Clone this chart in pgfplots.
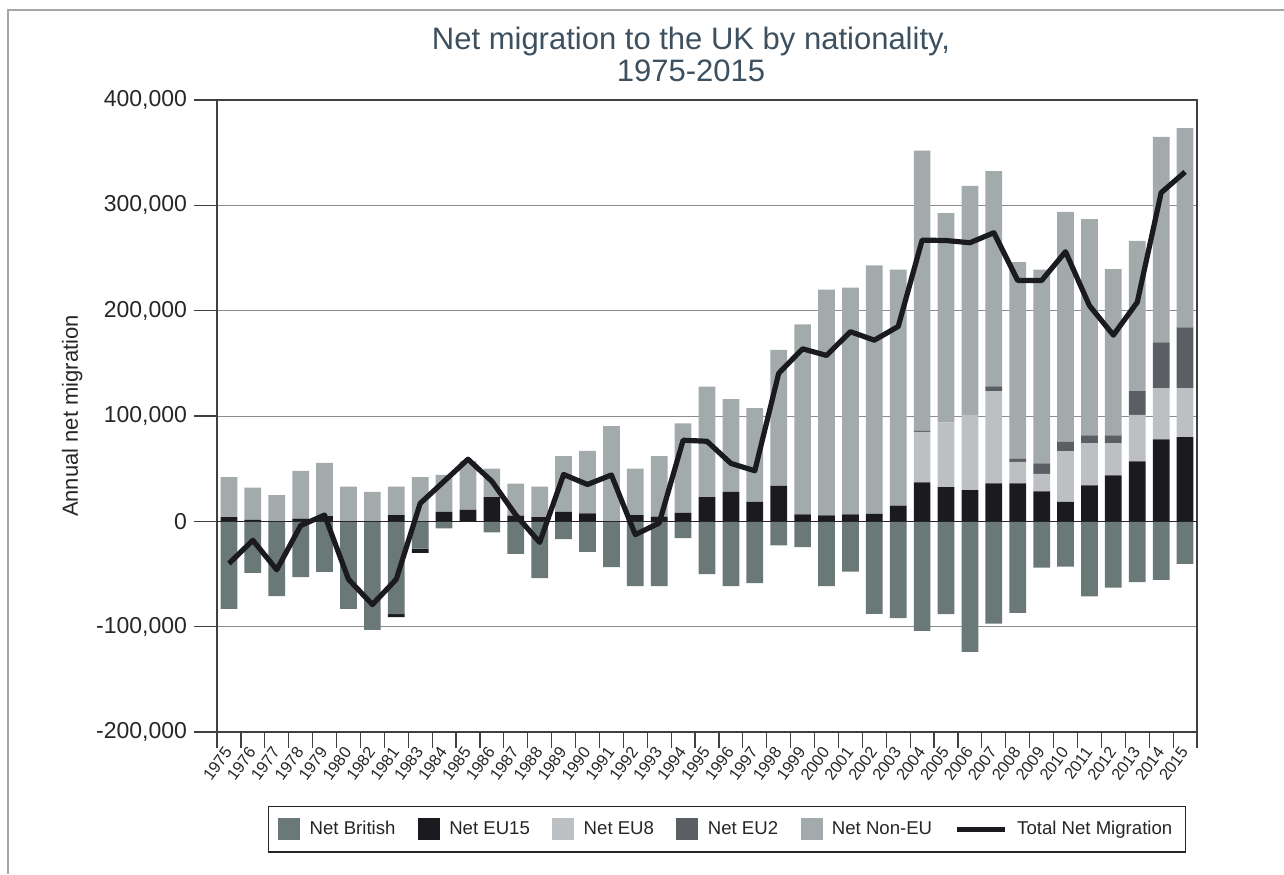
\documentclass[border=0pt]{standalone}
\usepackage{fontspec}
\setmainfont{Liberation Sans}
\usepackage{pgfplots}
\usepackage{pgfplotstable}
\pgfplotsset{compat=1.18}

\definecolor{cbrit}{RGB}{107,120,120}
\definecolor{ceu15}{RGB}{27,27,31}
\definecolor{ceu8}{RGB}{188,192,195}
\definecolor{ceu2}{RGB}{91,95,99}
\definecolor{cnon}{RGB}{162,170,171}
\definecolor{ctitle}{RGB}{61,80,96}

% i = category position; 1982 comes before 1981 as in the source chart
\pgfplotstableread{
i  yr   brit    negblk eu15  eu8   eu2   non    total
0  1975 -83000  0      4000  0     0     38000  -40000
1  1976 -49000  0      1500  0     0     30500  -18000
2  1977 -71000  0      0     0     0     25000  -46000
3  1978 -53000  0      2500  0     0     45500  -4000
4  1979 -48000  0      5000  0     0     50500  6000
5  1980 -83000  0      0     0     0     33000  -55000
6  1982 -103000 0      0     0     0     28000  -79000
7  1981 -88000  -3000  6000  0     0     27000  -55000
8  1983 -26000  -4000  0     0     0     42000  17000
9  1984 -6600   0      9000  0     0     35000  38000
10 1985 0       0      11000 0     0     46000  59000
11 1986 -10400  0      23000 0     0     27000  38000
12 1987 -31000  0      5400  0     0     30300  6000
13 1988 -54000  0      4000  0     0     29000  -20000
14 1989 -17000  0      9000  0     0     53000  44500
15 1990 -29000  0      7600  0     0     59400  35000
16 1991 -43500  0      0     0     0     90500  44000
17 1992 -61500  0      6000  0     0     44000  -12600
18 1993 -61500  0      4400  0     0     57600  -1600
19 1994 -16000  0      8000  0     0     85000  77000
20 1995 -50000  0      23000 0     0     105000 76000
21 1996 -61500  0      28000 0     0     88000  55000
22 1997 -58700  0      18500 0     0     89100  48000
23 1998 -22900  0      33700 0     0     129200 140600
24 1999 -24400  0      6700  0     0     180300 163800
25 2000 -61500  0      5700  0     0     214300 157500
26 2001 -47800  0      6700  0     0     215300 180000
27 2002 -87800  0      7000  0     0     236000 172000
28 2003 -92000  0      15000 0     0     224000 185000
29 2004 -104000 0      37000 48000 1000  266000 267000
30 2005 -88000  0      32500 61500 0     198500 266600
31 2006 -124000 0      29700 71300 0     217500 264500
32 2007 -97000  0      36000 87600 4500  204500 274000
33 2008 -87000  0      36000 20400 3000  186700 228700
34 2009 -44000  0      28400 16600 10000 184000 228700
35 2010 -43000  0      18500 48200 8700  218400 256000
36 2011 -71300  0      34200 40000 7400  205200 204800
37 2012 -63000  0      43700 30500 7400  157800 176800
38 2013 -57700  0      56900 44100 22600 142600 208000
39 2014 -55600  0      77900 48600 43500 195000 312000
40 2015 -40400  0      80000 46500 57700 189100 331700
}\mig

\pgfplotsset{
  base/.style={at={(108.5pt,-50pt)}, anchor=north west, scale only axis,
    width=490pt, height=316pt, xmin=-0.5, xmax=40.5, ymin=-200000, ymax=400000},
  sqleg/.style={legend image code/.code={\fill[##1, draw=none] (0pt,-5.5pt) rectangle (11pt,5.5pt);}},
  lineleg/.style={legend image code/.code={\draw[##1] (0pt,0pt) -- (24pt,0pt);}},
}

\begin{document}
\begin{tikzpicture}
\useasboundingbox (0,0) rectangle (642pt,-437pt);
\draw[black!35, line width=1pt] (4pt,-437pt) -- (4pt,-5pt) -- (642pt,-5pt);

\node[text=ctitle, font=\fontsize{15.5}{16}\selectfont, align=center] at (345.5pt,-27pt)
  {Net migration to the UK by nationality,\\1975-2015};

% back axis: grid, ticks, labels, negative bars
\begin{axis}[base, ybar stacked, bar width=0.7,
  ymajorgrids, grid style={black!45, line width=0.5pt},
  axis line style={black!75, line width=0.6pt},
  scaled y ticks=false,
  ytick={-200000,-100000,...,400000},
  yticklabels={{-200,000},{-100,000},{0},{100,000},{200,000},{300,000},{400,000}},
  ytick pos=left, tick align=outside, major tick length=11.5pt,
  ytick style={black!75, line width=0.6pt},
  xtick={0,...,40}, xtick style={draw=none},
  xticklabels={1975,1976,1977,1978,1979,1980,1982,1981,1983,1984,1985,1986,1987,1988,1989,1990,1991,1992,1993,1994,1995,1996,1997,1998,1999,2000,2001,2002,2003,2004,2005,2006,2007,2008,2009,2010,2011,2012,2013,2014,2015},
  xticklabel shift=-3.5pt,
  x tick label style={rotate=54, anchor=east, font=\fontsize{8.2}{9}\selectfont, inner sep=0.5pt, text=black!85},
  y tick label style={font=\fontsize{11.5}{12}\selectfont, text=black!85},
  ylabel={Annual net migration},
  ylabel style={font=\fontsize{11}{12}\selectfont, text=black!85},
]
\addplot[fill=cbrit, draw=none] table[x=i, y=brit] {\mig};
\addplot[fill=ceu15, draw=none] table[x=i, y=negblk] {\mig};
\end{axis}

% positive bars and boundary ticks
\begin{axis}[base, ybar stacked, bar width=0.7,
  axis x line*=bottom, axis y line=none, ytick=\empty,
  axis line style={black!75, line width=0.6pt},
  xtick={-0.5,0.5,...,40.5}, xticklabels={},
  tick align=outside, major tick length=8pt,
  xtick style={black!75, line width=0.6pt},
]
\addplot[fill=ceu15, draw=none] table[x=i, y=eu15] {\mig};
\addplot[fill=ceu8, draw=none] table[x=i, y=eu8] {\mig};
\addplot[fill=ceu2, draw=none] table[x=i, y=eu2] {\mig};
\addplot[fill=cnon, draw=none] table[x=i, y=non] {\mig};
\end{axis}

% total line, zero line, legend
\begin{axis}[base, hide axis,
  legend columns=6,
  legend style={at={(0.5204,-0.117)}, anchor=north, draw=black!85, line width=0.7pt,
    fill=white, font=\fontsize{9.3}{11}\selectfont, inner xsep=5pt, inner ysep=5.5pt,
    nodes={inner sep=1.7pt, text=black!85},
    /tikz/every odd column/.append style={column sep=3pt},
    /tikz/every even column/.append style={column sep=9.5pt}},
]
\addplot[black!85, line width=0.6pt, forget plot] coordinates {(-0.5,0) (40.5,0)};
\addlegendimage{sqleg, fill=cbrit}\addlegendentry{Net British}
\addlegendimage{sqleg, fill=ceu15}\addlegendentry{Net EU15}
\addlegendimage{sqleg, fill=ceu8}\addlegendentry{Net EU8}
\addlegendimage{sqleg, fill=ceu2}\addlegendentry{Net EU2}
\addlegendimage{sqleg, fill=cnon}\addlegendentry{Net Non-EU}
\addplot[ceu15, line width=2.6pt, line join=round, no marks, lineleg]
  table[x=i, y=total] {\mig};
\addlegendentry{Total Net Migration}
\end{axis}
\end{tikzpicture}
\end{document}
